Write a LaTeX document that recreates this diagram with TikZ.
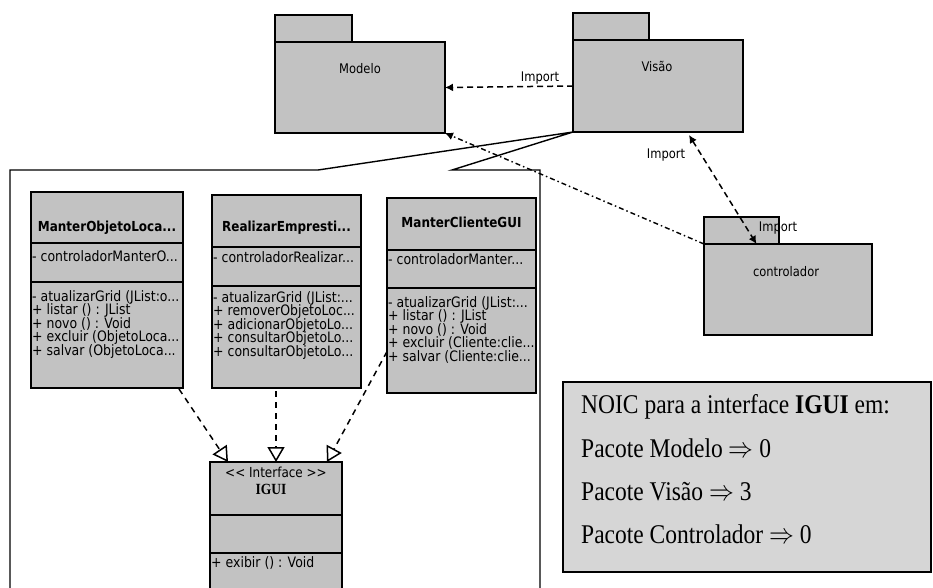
\documentclass[tikz,border=0pt]{standalone}
\usepackage{graphicx}
\usepackage{fontspec}
\setmainfont{Liberation Serif}
\newfontfamily\uifont{DejaVu Sans}
\usetikzlibrary{arrows.meta,calc}
% glyphs in this drawing are set slightly taller than wide
\newcommand{\tall}[1]{\scalebox{1}[1.15]{#1}}

\begin{document}
\begin{tikzpicture}[x=1pt,y=-1pt,
  shade box/.style={draw=black, line width=1.4pt, fill=black!24, anchor=north west, inner sep=0pt, outer sep=0pt},
  note box/.style={draw=black, line width=1.4pt, fill=black!16, anchor=north west, inner sep=0pt, outer sep=0pt},
  pkgtext/.style={font=\uifont\fontsize{11.5}{13}\selectfont, inner sep=0pt, anchor=base},
  clsname/.style={font=\uifont\bfseries\fontsize{12}{13}\selectfont, inner sep=0pt, anchor=base},
  member/.style={font=\uifont\fontsize{12.5}{13}\selectfont, inner sep=0pt, anchor=base west},
  notetext/.style={font=\fontsize{23.5}{26}\selectfont, inner sep=0pt, anchor=base west},
  importdep/.style={line width=1.5pt, dash pattern=on 6pt off 4pt, -{Latex[length=8pt,width=8pt]}},
  importdot/.style={line width=1.4pt, dash pattern=on 5pt off 3pt on 1.5pt off 3pt, -{Latex[length=8pt,width=8pt]}},
  realize/.style={line width=1.5pt, dash pattern=on 6pt off 5pt, -{Triangle[open,length=15pt,width=17pt,line width=1.5pt]}},
  outline/.style={line width=1.4pt, line join=miter}
]
\clip (0,0) rectangle (933,587);
\fill[white] (0,0) rectangle (933,587);

% ---------- packages ----------
\node[shade box, minimum width=77pt, minimum height=27pt] (modeloTab) at (275,15) {};
\node[shade box, minimum width=170pt, minimum height=91pt] (modelo) at (275,42) {};
\node[pkgtext] (modeloName) at (360,73) {\tall{Modelo}};

\node[shade box, minimum width=76pt, minimum height=27pt] (visaoTab) at (573,13) {};
\node[shade box, minimum width=170pt, minimum height=92pt] (visao) at (573,40) {};
\node[pkgtext] (visaoName) at (657,71) {\tall{Visão}};

\node[shade box, minimum width=75pt, minimum height=27pt] (ctrlTab) at (704,217) {};
\node[shade box, minimum width=168pt, minimum height=91pt] (ctrl) at (704,244) {};
\node[pkgtext] (ctrlName) at (786,276) {\tall{controlador}};

% ---------- callout frame holding the classes of Visão ----------
\draw[outline] (10,600) -- (10,170) -- (318,170) -- (visao.south west)
  -- (452,170) -- (540,170) -- (540,600);

% ---------- class ManterObjetoLoca... ----------
\node[shade box, minimum width=152pt, minimum height=51pt] (moH) at (31,192) {};
\node[shade box, minimum width=152pt, minimum height=39pt] (moA) at (31,243) {};
\node[shade box, minimum width=152pt, minimum height=106pt] (moM) at (31,282) {};
\begin{scope}
  \clip (moH.north west) rectangle (moM.south east);
  \node[clsname] (moName) at (107,231) {\tall{ManterObjetoLoca...}};
  \node[member] (moAttr) at (32,261) {\tall{- controladorManterO...}};
  \node[member] (moOp1) at (32,301) {\tall{- atualizarGrid (JList:o...}};
  \node[member] (moOp2) at (32,314.5) {\tall{+ listar () : JList}};
  \node[member] (moOp3) at (32,328) {\tall{+ novo () : Void}};
  \node[member] (moOp4) at (32,341.5) {\tall{+ excluir (ObjetoLoca...}};
  \node[member] (moOp5) at (32,355) {\tall{+ salvar (ObjetoLoca...}};
\end{scope}

% ---------- class RealizarEmpresti... ----------
\node[shade box, minimum width=149pt, minimum height=52pt] (reH) at (212,195) {};
\node[shade box, minimum width=149pt, minimum height=39pt] (reA) at (212,247) {};
\node[shade box, minimum width=149pt, minimum height=102pt] (reM) at (212,286) {};
\begin{scope}
  \clip (reH.north west) rectangle (reM.south east);
  \node[clsname] (reName) at (286.5,231) {\tall{RealizarEmpresti...}};
  \node[member] (reAttr) at (213,262) {\tall{- controladorRealizar...}};
  \node[member] (reOp1) at (213,302) {\tall{- atualizarGrid (JList:...}};
  \node[member] (reOp2) at (213,315.5) {\tall{+ removerObjetoLoc...}};
  \node[member] (reOp3) at (213,329) {\tall{+ adicionarObjetoLo...}};
  \node[member] (reOp4) at (213,342.5) {\tall{+ consultarObjetoLo...}};
  \node[member] (reOp5) at (213,356) {\tall{+ consultarObjetoLo...}};
\end{scope}

% ---------- class ManterClienteGUI ----------
\node[shade box, minimum width=149pt, minimum height=52pt] (mcH) at (387,198) {};
\node[shade box, minimum width=149pt, minimum height=38pt] (mcA) at (387,250) {};
\node[shade box, minimum width=149pt, minimum height=105pt] (mcM) at (387,288) {};
\begin{scope}
  \clip (mcH.north west) rectangle (mcM.south east);
  \node[clsname] (mcName) at (461.5,227) {\tall{ManterClienteGUI}};
  \node[member] (mcAttr) at (388,264) {\tall{- controladorManter...}};
  \node[member] (mcOp1) at (388,307) {\tall{- atualizarGrid (JList:...}};
  \node[member] (mcOp2) at (388,320.5) {\tall{+ listar () : JList}};
  \node[member] (mcOp3) at (388,334) {\tall{+ novo () : Void}};
  \node[member] (mcOp4) at (388,347.5) {\tall{+ excluir (Cliente:clie...}};
  \node[member] (mcOp5) at (388,361) {\tall{+ salvar (Cliente:clie...}};
\end{scope}

% ---------- interface IGUI ----------
\node[shade box, minimum width=132pt, minimum height=53pt] (igH) at (210,462) {};
\node[shade box, minimum width=132pt, minimum height=38pt] (igA) at (210,515) {};
\node[shade box, minimum width=132pt, minimum height=60pt] (igM) at (210,553) {};
\node[font=\uifont\fontsize{12}{13}\selectfont, inner sep=0pt, anchor=base] (igStereo) at (276,477) {\tall{<< Interface >>}};
\node[font=\bfseries\fontsize{13.5}{15}\selectfont, inner sep=0pt, anchor=base] (igName) at (271,494) {\tall{IGUI}};
\node[member] (igOp) at (211,567) {\tall{+ exibir () : Void}};

% ---------- realizations of IGUI ----------
\draw[realize] ($(moM.south east)+(-4,1)$) -- ($(igH.north west)+(18,0)$);
\draw[realize] ($(reM.south west)+(64,3)$) -- (igH.north);
\draw[realize] ($(mcM.west)+(0,11)$) -- ($(igH.north east)+(-15,0)$);

% ---------- imports between packages ----------
\draw[importdep] (visao.west) -- (modelo.east);
\node[pkgtext] (imp1) at (540,81) {\tall{Import}};

\draw[importdot] (ctrl.north west) -- (modelo.south east);

\draw[importdep, {Latex[length=8pt,width=8pt]}-{Latex[length=8pt,width=8pt]}]
  ($(visao.south)+(31,3)$) -- ($(ctrlTab.south)+(15,0)$);
\node[pkgtext] (imp2) at (666,158) {\tall{Import}};
\node[pkgtext] (imp3) at (778,231) {\tall{Import}};

% ---------- NOIC summary ----------
\node[note box, minimum width=368pt, minimum height=190pt] (noic) at (563,382) {};
\node[notetext] (noic1) at (581,413) {\tall{NOIC para a interface \textbf{IGUI} em:}};
\node[notetext] (noic2) at (581,457) {\tall{Pacote Modelo $\Rightarrow$ 0}};
\node[notetext] (noic3) at (581,500) {\tall{Pacote Visão $\Rightarrow$ 3}};
\node[notetext] (noic4) at (581,543) {\tall{Pacote Controlador $\Rightarrow$ 0}};
\end{tikzpicture}
\end{document}
